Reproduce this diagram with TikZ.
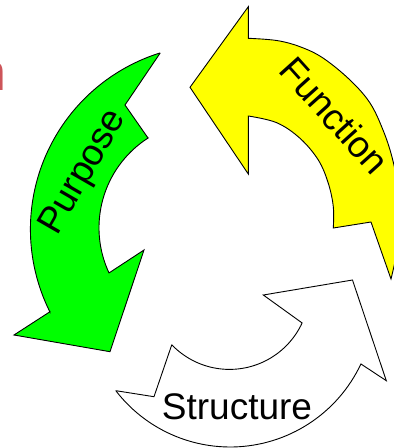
\documentclass[tikz,border=0pt]{standalone}
\usepackage{fontspec}
\setmainfont{Liberation Sans}
\definecolor{purposegreen}{RGB}{0,255,0}
\definecolor{functionyellow}{RGB}{255,255,0}
\definecolor{titlered}{RGB}{205,85,90}
\tikzset{
  arrowshape/.style={draw=black, line width=0.9pt, line join=miter},
  lbl/.style={font=\fontsize{37}{44}\selectfont, inner sep=0pt, anchor=base, text=black}
}
\begin{document}
\begin{tikzpicture}[x=1pt, y=-1pt]
  \useasboundingbox (0,0) rectangle (394,448);
  \clip (0,0) rectangle (394,448);

  % part of the title, running off the left edge
  \node[anchor=base west, inner sep=0pt, text=titlered,
        font=\fontsize{52}{60}\selectfont] (title) at (-22.6,90) {n};

  % Purpose: green arrow curving down the left side
  \filldraw[arrowshape, fill=purposegreen]
    (160,53.3) -- (125,105) -- (148,138)
    -- plot[domain=0:1, samples=50, variable=\t]
       ({205.7+106.7*cos(237.3+(154.95-237.3)*\t)}, {227.8+106.7*sin(237.3+(154.95-237.3)*\t)})
    -- (144,250) -- (110,351.7) -- (14,335) -- (50,311.7)
    -- plot[domain=0:1, samples=60, variable=\t]
       ({215.2+184.8*cos(153.4+(252.6-153.4)*\t)}, {229.3+184.8*sin(153.4+(252.6-153.4)*\t)})
    -- cycle;

  % Function: yellow arrow curving over the top right
  \filldraw[arrowshape, fill=functionyellow]
    (248.3,38.3)
    -- plot[smooth, tension=0.6] coordinates {(248.3,38.3) (276.7,40.5) (300,46.7) (323,58) (350,80) (370,103) (383,130) (392,157) (397.5,185) (399.5,215) (397.5,248) (391,279)}
    -- (371,222) -- (333.3,228)
    -- plot[smooth, tension=0.6] coordinates {(333.3,228) (333.3,206.7) (328.3,183.3) (318.3,160) (300,138.3) (276.7,122.7) (248.3,116)}
    -- (248.3,174) -- (190,87.3) -- (248.3,6.7) -- cycle;

  % Structure: white arrow curving along the bottom
  \filldraw[arrowshape, fill=white]
    (116,390.7) -- (154,396.7) -- (171.7,345)
    -- plot[domain=0:1, samples=50, variable=\t]
       ({229.5+80*cos(136.1+(24.76-136.1)*\t)}, {289.4+80*sin(136.1+(24.76-136.1)*\t)})
    -- (263.3,295) -- (352.5,280) -- (386.3,380.7) -- (361,364)
    -- plot[domain=0:1, samples=60, variable=\t]
       ({230.2+144.4*cos(25.14+(142.35-25.14)*\t)}, {302.6+144.4*sin(25.14+(142.35-25.14)*\t)})
    -- cycle;

  % labels
  \node[lbl, rotate=60] (purpose) at (91.8,177) {Purpose};
  \node[lbl, rotate=-48] (function) at (324.6,124.5) {Function};
  \node[lbl] (structure) at (237,419.5) {Structure};
\end{tikzpicture}
\end{document}
